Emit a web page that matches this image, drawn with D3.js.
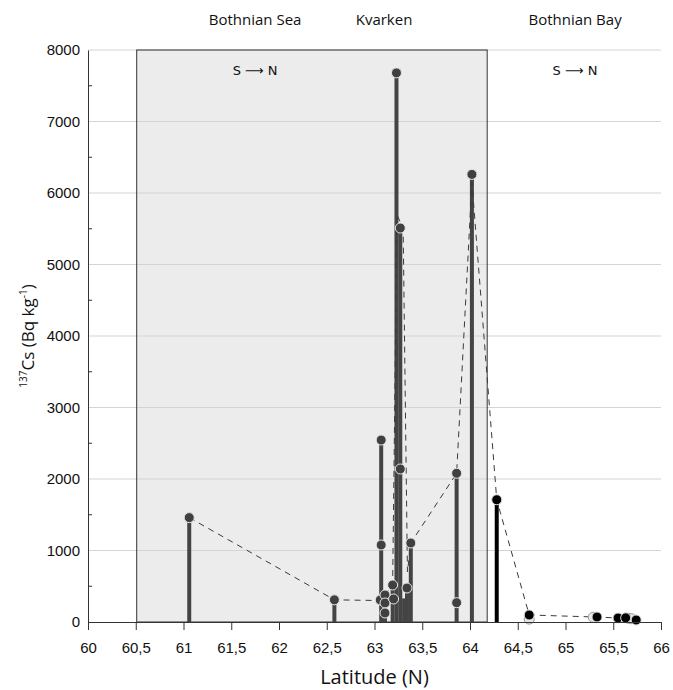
<!DOCTYPE html>
<html>
<head>
<meta charset="utf-8">
<script src="https://cdn.jsdelivr.net/npm/d3@7"></script>
<style>
  body { margin: 0; background: #fff; }
  svg { font-family: "Open Sans", "Noto Sans", sans-serif; }
</style>
</head>
<body>
<div id="chart"></div>
<script>
// stems: latitude and highest value per station
const stemLat = [61.06, 62.58, 63.07, 63.11, 63.19, 63.23, 63.27, 63.31, 63.34, 63.38, 63.86, 64.02]
const stemTop = [1460, 310, 2545, 380, 517, 7680, 5510, 330, 475, 1105, 2080, 6260]
const bayStemLat = [64.28]
const bayStemTop = [1710]

// individual samples, Bothnian Sea + Kvarken
const seaLat = [61.06, 62.58, 63.07, 63.07, 63.06, 63.11, 63.11, 63.11, 63.19, 63.2, 63.23, 63.27, 63.27, 63.34, 63.38, 63.86, 63.86, 64.02]
const seaVal = [1460, 310, 2545, 1077, 308, 378, 266, 126, 517, 322, 7680, 5510, 2140, 475, 1105, 2080, 270, 6260]

// Bothnian Bay samples
const bayLat = [64.28, 64.62, 65.33, 65.55, 65.63, 65.74]
const bayVal = [1710, 98, 70, 56, 58, 28]
const bayFaintLat = [64.62, 65.29, 65.66, 65.69]
const bayFaintVal = [40, 66, 52, 46]

// dashed trend line
const lineLat = [61.06, 62.58, 63.07, 63.19, 63.235, 63.3, 63.345, 63.38, 63.86, 64.02, 64.28, 64.62, 65.31, 65.55, 65.63, 65.73]
const lineVal = [1460, 310, 300, 517, 5700, 5500, 700, 1105, 2080, 6150, 1710, 98, 70, 56, 55, 30]

const xTicks = d3.range(60, 66.01, 0.5)
const yTicks = d3.range(0, 8001, 1000)
const yMinor = d3.range(500, 8000, 1000)

const width = 673, height = 690
const margin = { top: 50, right: 12, bottom: 68, left: 88 }

const svg = d3.select("#chart").append("svg")
  .attr("width", width)
  .attr("height", height)

const x = d3.scaleLinear().domain([60, 66]).range([margin.left, width - margin.right])
const y = d3.scaleLinear().domain([0, 8000]).range([height - margin.bottom, margin.top])

// grey box for Bothnian Sea / Kvarken
svg.append("rect")
  .attr("x", x(60.51))
  .attr("y", y(8000))
  .attr("width", x(64.18) - x(60.51))
  .attr("height", y(0) - y(8000))
  .attr("fill", "#ececec")

// gridlines
svg.append("g")
  .selectAll("line")
  .data(yTicks.filter(d => d > 0))
  .join("line")
  .attr("x1", x(60))
  .attr("x2", x(66))
  .attr("y1", d => y(d))
  .attr("y2", d => y(d))
  .attr("stroke", "#d4d4d4")
  .attr("stroke-width", 1)

svg.append("rect")
  .attr("x", x(60.51))
  .attr("y", y(8000))
  .attr("width", x(64.18) - x(60.51))
  .attr("height", y(0) - y(8000))
  .attr("fill", "none")
  .attr("stroke", "#333")
  .attr("stroke-width", 1)

// stems
svg.append("g")
  .selectAll("line")
  .data(stemLat.map((d, i) => [d, stemTop[i]]))
  .join("line")
  .attr("x1", d => x(d[0]))
  .attr("x2", d => x(d[0]))
  .attr("y1", y(0))
  .attr("y2", d => y(d[1]))
  .attr("stroke", "#444")
  .attr("stroke-width", 4)

svg.append("g")
  .selectAll("line")
  .data(bayStemLat.map((d, i) => [d, bayStemTop[i]]))
  .join("line")
  .attr("x1", d => x(d[0]))
  .attr("x2", d => x(d[0]))
  .attr("y1", y(0))
  .attr("y2", d => y(d[1]))
  .attr("stroke", "#000")
  .attr("stroke-width", 4)

// dashed line
const line = d3.line().x(d => x(d[0])).y(d => y(d[1]))
svg.append("path")
  .datum(lineLat.map((d, i) => [d, lineVal[i]]))
  .attr("d", line)
  .attr("fill", "none")
  .attr("stroke", "#3a3a3a")
  .attr("stroke-width", 1)
  .attr("stroke-dasharray", "6,5")

// markers
svg.append("g")
  .selectAll("circle")
  .data(bayFaintLat.map((d, i) => [d, bayFaintVal[i]]))
  .join("circle")
  .attr("cx", d => x(d[0]))
  .attr("cy", d => y(d[1]))
  .attr("r", 5)
  .attr("fill", "#e8e8e8")
  .attr("stroke", "#999")
  .attr("stroke-width", 1)

svg.append("g")
  .selectAll("circle")
  .data(seaLat.map((d, i) => [d, seaVal[i]]))
  .join("circle")
  .attr("cx", d => x(d[0]))
  .attr("cy", d => y(d[1]))
  .attr("r", 5)
  .attr("fill", "#404040")
  .attr("stroke", "#e6e6e6")
  .attr("stroke-width", 1)

svg.append("g")
  .selectAll("circle")
  .data(bayLat.map((d, i) => [d, bayVal[i]]))
  .join("circle")
  .attr("cx", d => x(d[0]))
  .attr("cy", d => y(d[1]))
  .attr("r", 5)
  .attr("fill", "#000")
  .attr("stroke", "#ddd")
  .attr("stroke-width", 1)

// x axis
const xAxis = svg.append("g")
  .attr("transform", `translate(0,${y(0)})`)
  .call(d3.axisBottom(x)
    .tickValues(xTicks)
    .tickSize(8)
    .tickFormat(d => String(+d.toFixed(1)).replace(".", ",")))
xAxis.select(".domain").attr("stroke", "#333").attr("d", `M${x(60)},0.5H${x(66)}`)
xAxis.selectAll(".tick line").attr("stroke", "#333")
xAxis.selectAll(".tick text")
  .attr("font-size", 15)
  .attr("fill", "#111")
  .attr("dy", "1.3em")

// y axis
const yAxis = svg.append("g")
  .attr("transform", `translate(${x(60)},0)`)
  .call(d3.axisLeft(y).tickValues(yTicks).tickSize(0).tickPadding(8).tickFormat(d3.format("d")))
yAxis.select(".domain").attr("stroke", "#333")
yAxis.selectAll(".tick text")
  .attr("font-size", 15)
  .attr("fill", "#111")

svg.append("g")
  .selectAll("line")
  .data(yMinor)
  .join("line")
  .attr("x1", x(60))
  .attr("x2", x(60) + 4)
  .attr("y1", d => y(d))
  .attr("y2", d => y(d))
  .attr("stroke", "#333")

// region labels
const regionLabels = [
  { text: "Bothnian Sea", lat: 61.75, v: 8350 },
  { text: "Kvarken", lat: 63.1, v: 8350 },
  { text: "Bothnian Bay", lat: 65.1, v: 8350 },
  { text: "S \u27F6 N", lat: 61.75, v: 7650 },
  { text: "S \u27F6 N", lat: 65.1, v: 7650 }
]
svg.append("g")
  .selectAll("text")
  .data(regionLabels)
  .join("text")
  .attr("x", d => x(d.lat))
  .attr("y", d => y(d.v))
  .attr("text-anchor", "middle")
  .attr("font-size", 15)
  .attr("fill", "#111")
  .attr("font-family", d => d.text.startsWith("S") ? "DejaVu Sans, sans-serif" : null)
  .attr("font-size", d => d.text.startsWith("S") ? 13 : 15)
  .text(d => d.text)

// axis titles
svg.append("text")
  .attr("x", (x(60) + x(66)) / 2)
  .attr("y", 684)
  .attr("text-anchor", "middle")
  .attr("font-size", 20)
  .attr("fill", "#111")
  .text("Latitude (N)")

const yTitle = svg.append("text")
  .attr("transform", `translate(34,${(y(0) + y(8000)) / 2}) rotate(-90)`)
  .attr("text-anchor", "middle")
  .attr("font-size", 17)
  .attr("fill", "#111")
yTitle.append("tspan").attr("font-size", 10).attr("dy", -7).text("137")
yTitle.append("tspan").attr("dy", 7).text("Cs (Bq kg")
yTitle.append("tspan").attr("font-size", 10).attr("dy", -7).text("-1")
yTitle.append("tspan").attr("dy", 7).text(")")
</script>
</body>
</html>
